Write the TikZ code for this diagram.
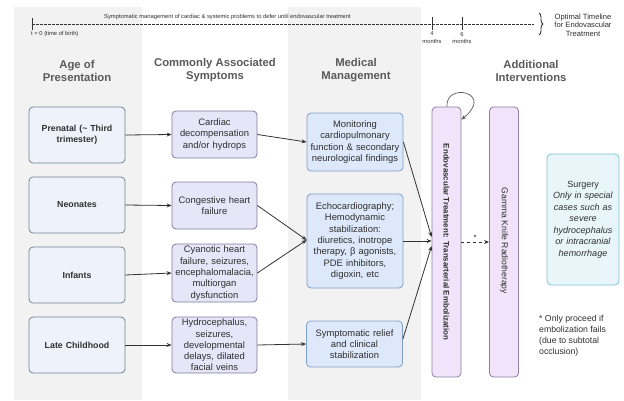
\documentclass[tikz,border=0pt]{standalone}
\usepackage{fontspec}
\setmainfont{Liberation Sans}
\usetikzlibrary{arrows.meta,decorations.pathreplacing,calc}
\definecolor{colbg}{HTML}{F2F2F2}
\definecolor{cAfill}{HTML}{EEF3FB}
\definecolor{cAline}{HTML}{6F8496}
\definecolor{cBfill}{HTML}{E7E5F8}
\definecolor{cBline}{HTML}{7F7C9C}
\definecolor{cCfill}{HTML}{DDE8FA}
\definecolor{cCline}{HTML}{7F9ECC}
\definecolor{barfill}{HTML}{F1E3FA}
\definecolor{barline}{HTML}{8F7EA3}
\definecolor{sfill}{HTML}{E8F6FA}
\definecolor{sline}{HTML}{7CC4D4}
\definecolor{txt}{HTML}{2F2F2F}
\definecolor{hdrc}{HTML}{5A5A5A}
\definecolor{arrc}{HTML}{333333}
\begin{document}
\begin{tikzpicture}[x=1pt,y=-1pt,
  box/.style={draw, rounded corners=4pt, line width=0.8pt, align=center, inner xsep=0.5pt, inner ysep=0pt, text=txt, font=\fontsize{9.4}{11.3}\selectfont},
  agebox/.style={box, fill=cAfill, draw=cAline, text width=95pt, minimum height=56pt, font=\bfseries\fontsize{8.8}{11}\selectfont},
  symbox/.style={box, fill=cBfill, draw=cBline, text width=84pt},
  medbox/.style={box, fill=cCfill, draw=cCline, text width=95pt},
  barbox/.style={draw=barline, fill=barfill, rounded corners=4pt, line width=0.8pt, minimum width=29pt, minimum height=270pt, inner sep=0pt},
  hdr/.style={align=center, font=\bfseries\fontsize{11.3}{13}\selectfont, text=hdrc, inner sep=0pt},
  arr/.style={draw=arrc, line width=0.8pt, -{Stealth[length=5pt,width=4pt]}},
  tline/.style={draw=arrc, line width=0.8pt, dash pattern=on 2.5pt off 1.5pt},
  tickmark/.style={draw=arrc, line width=1pt},
  tiny/.style={font=\fontsize{5.8}{7.5}\selectfont, text=txt, inner sep=0pt, align=center},
  brc/.style={draw=arrc, line width=0.9pt, decorate, decoration={brace, amplitude=4pt}},
]
\useasboundingbox (0,0) rectangle (624,400);
\fill[colbg] (14,7) rectangle (142,400);
\fill[colbg] (288,7) rectangle (421,400);

% timeline
\coordinate (t0) at (32,24);
\coordinate (tend) at (534,24);
\draw[tline] (t0) -- (tend);
\draw[tickmark] (32,18) -- (32,30);
\draw[tickmark] (432,17) -- (432,30);
\draw[tickmark] (462,17) -- (462,30);
\node[tiny] (tltext) at (227.5,17) {Symptomatic management of cardiac \& systemic problems to defer until endovascular treatment};
\node[tiny, anchor=west] (tzero) at (31,34) {t = 0 (time of birth)};
\node[tiny] (four) at (432,34) {4};
\node[tiny] (fourm) at (432,41.5) {months};
\node[tiny] (six) at (462,34) {6};
\node[tiny] (sixm) at (462,41.5) {months};
\draw[brc] (539,13) -- (539,35);
\node[align=center, inner sep=0pt, text=txt, font=\fontsize{7.6}{8.7}\selectfont] (optimal) at (583,25) {Optimal Timeline\\for Endovascular\\Treatment};

% headers
\node[hdr] (h1) at (77,70.5) {Age of\\Presentation};
\node[hdr] (h2) at (215,70.5) {Commonly Associated\\Symptoms};
\node[hdr] (h3) at (356,70.5) {Medical\\Management};
\node[hdr] (h4) at (531,70.5) {Additional\\Interventions};

% column 1
\node[agebox] (pre) at (77,135) {Prenatal (\textasciitilde{} Third\\trimester)};
\node[agebox] (neo) at (77,205) {Neonates};
\node[agebox] (inf) at (77,275) {Infants};
\node[agebox] (late) at (77,345) {Late Childhood};

% column 2
\node[symbox, minimum height=47pt] (card) at (214.5,134.5) {Cardiac\\decompensation\\and/or hydrops};
\node[symbox, minimum height=47pt] (cong) at (214.5,205.5) {Congestive heart\\failure};
\node[symbox, minimum height=58pt] (cyan) at (214.5,273) {Cyanotic heart\\failure, seizures,\\encephalomalacia,\\multiorgan\\dysfunction};
\node[symbox, minimum height=56pt] (hydro) at (214.5,345) {Hydrocephalus,\\seizures,\\developmental\\delays, dilated\\facial veins};

% column 3
\node[medbox, minimum height=58pt] (mon) at (355,142) {Monitoring\\cardiopulmonary\\function \& secondary\\neurological findings};
\node[medbox, minimum height=94pt] (echo) at (355,241) {Echocardiography;\\Hemodynamic\\stabilization:\\diuretics, inotrope\\therapy, β agonists,\\PDE inhibitors,\\digoxin, etc};
\node[medbox, minimum height=46pt] (symp) at (354.5,344) {Symptomatic relief\\and clinical\\stabilization};

% column 4
\node[barbox] (endo) at (446.5,242) {};
\node[rotate=-90, inner sep=0pt, text=txt, font=\bfseries\fontsize{7.9}{9}\selectfont] (endotxt) at (endo.center) {Endovascular Treatment: Transarterial Embolization};
\node[barbox] (gamma) at (504,242) {};
\node[rotate=-90, inner sep=0pt, text=txt, font=\fontsize{8.6}{10}\selectfont] (gammatxt) at ($(gamma.center)+(0,-1)$) {Gamma Knife Radiotherapy};
\node[box, fill=sfill, draw=sline, text width=71pt, minimum height=131pt, font=\fontsize{9}{11.5}\selectfont] (surg) at (583,219.5) {Surgery\\\textit{Only in special}\\\textit{cases such as}\\\textit{severe}\\\textit{hydrocephalus}\\\textit{or intracranial}\\\textit{hemorrhage}};
\node[anchor=north west, align=left, inner sep=0pt, text=txt, font=\fontsize{8.7}{11}\selectfont] (note) at (539,314.5) {* Only proceed if\\embolization fails\\(due to subtotal\\occlusion)};

% connectors
\draw[arr] (pre.east) -- (card.west);
\draw[arr] (neo.east) -- (cong.west);
\draw[arr] (inf.east) -- (cyan.west);
\draw[arr] (late.east) -- (hydro.west);
\draw[arr] (card.east) -- (mon.west);
\draw[arr] (cong.east) -- ($(echo.west)+(0,-1)$);
\draw[arr] (cyan.east) -- ($(echo.west)+(0,-1)$);
\draw[arr] (hydro.east) -- (symp.west);
\draw[arr] (mon.east) -- ($(endo.west)+(0,-5)$);
\draw[arr] (echo.east) -- ($(endo.west)+(0,-1)$);
\draw[arr] ($(symp.east)+(0,-5)$) -- ($(endo.west)+(0,4)$);
\draw[arr, dashed] (endo.east) -- node[above=1pt, inner sep=0pt, text=txt, font=\fontsize{8}{9}\selectfont] (star) {*} (gamma.west);
\draw[arr, draw=hdrc, line width=0.7pt] ($(endo.north)+(0.5,0)$) .. controls (445,82) and (495,92) .. ($(endo.north east)+(0,13)$);
\end{tikzpicture}
\end{document}
